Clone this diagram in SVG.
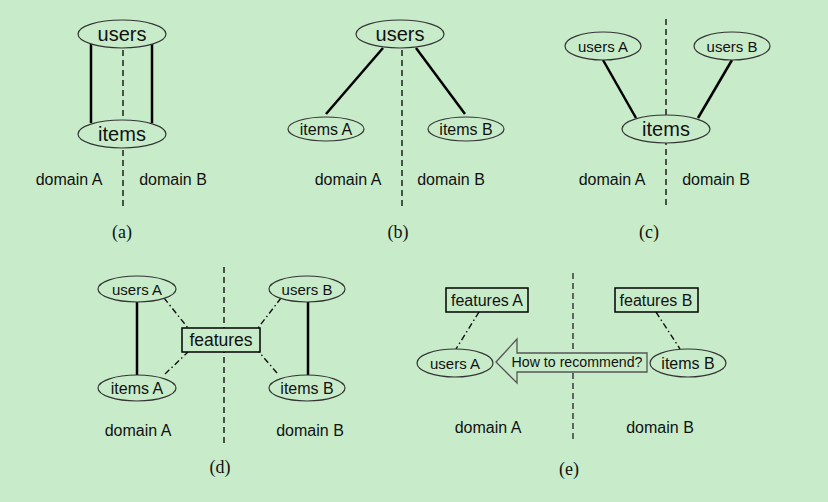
<svg xmlns="http://www.w3.org/2000/svg" width="828" height="502" viewBox="0 0 828 502">
<style>
.bg{fill:#c8ecca}
.nd{fill:#c8ecca;stroke:#333;stroke-width:1.2}
.bx{fill:#c8ecca;stroke:#000;stroke-width:1.5}
.t{font-family:"Liberation Sans",Arial,sans-serif;fill:#111;text-anchor:middle}
.cap{font-family:"Liberation Serif","Times New Roman",serif;font-size:18px;fill:#111;text-anchor:middle}
.solid{stroke:#000;stroke-width:2.5;fill:none}
.dash{stroke:#111;stroke-width:1.4;stroke-dasharray:6 4;fill:none}
.dashg{stroke:#555;stroke-width:1.8;stroke-dasharray:6 4;fill:none}
.dd{stroke:#111;stroke-width:1.4;stroke-dasharray:6 3 1.5 3;fill:none}
</style>
<rect class="bg" x="0" y="0" width="828" height="502"/>

<g id="connectors">
  <!-- (a) -->
  <line class="solid" x1="91" y1="44" x2="91" y2="123"/>
  <line class="solid" x1="152" y1="44" x2="152" y2="123"/>
  <line class="dash" x1="123" y1="50" x2="123" y2="208"/>
  <!-- (b) -->
  <line class="solid" x1="383" y1="48" x2="326" y2="114"/>
  <line class="solid" x1="416" y1="48" x2="465" y2="114"/>
  <line class="dash" x1="402" y1="50" x2="402" y2="208"/>
  <!-- (c) -->
  <line class="dash" x1="666" y1="19" x2="666" y2="208"/>
  <line class="solid" x1="603" y1="60" x2="636" y2="118"/>
  <line class="solid" x1="732" y1="60" x2="698" y2="118"/>
  <!-- (d) -->
  <line class="dash" x1="224" y1="267" x2="224" y2="447"/>
  <line class="solid" x1="137" y1="302" x2="137" y2="375"/>
  <line class="solid" x1="308" y1="302" x2="308" y2="375"/>
  <line class="dd" x1="164" y1="298" x2="188" y2="328"/>
  <line class="dd" x1="165" y1="374" x2="188" y2="352"/>
  <line class="dd" x1="281" y1="298" x2="258" y2="328"/>
  <line class="dd" x1="277" y1="373" x2="259" y2="352"/>
  <!-- (e) -->
  <line class="dashg" x1="573" y1="273" x2="573" y2="442"/>
  <line class="dd" x1="479" y1="312" x2="456" y2="349"/>
  <line class="dd" x1="656" y1="312" x2="680" y2="349"/>
</g>

<!-- (a) -->
<g id="a-users"><ellipse class="nd" cx="122" cy="34" rx="44" ry="14"/><text class="t" x="122" y="41" font-size="20">users</text></g>
<g id="a-items"><ellipse class="nd" cx="122" cy="134" rx="44" ry="14"/><text class="t" x="122" y="141" font-size="20">items</text></g>
<text class="t" x="69" y="185" font-size="16">domain A</text>
<text class="t" x="173" y="185" font-size="16">domain B</text>
<text class="cap" x="122" y="238">(a)</text>

<!-- (b) -->
<g id="b-users"><ellipse class="nd" cx="400" cy="34" rx="44" ry="14"/><text class="t" x="400" y="41" font-size="20">users</text></g>
<g id="b-itemsA"><ellipse class="nd" cx="326" cy="129" rx="38" ry="12"/><text class="t" x="326" y="135" font-size="16">items A</text></g>
<g id="b-itemsB"><ellipse class="nd" cx="466" cy="129" rx="38" ry="12"/><text class="t" x="466" y="135" font-size="16">items B</text></g>
<text class="t" x="348" y="185" font-size="16">domain A</text>
<text class="t" x="451" y="185" font-size="16">domain B</text>
<text class="cap" x="398" y="238">(b)</text>

<!-- (c) -->
<g id="c-usersA"><ellipse class="nd" cx="603" cy="46" rx="38" ry="14"/><text class="t" x="603" y="52" font-size="15">users A</text></g>
<g id="c-usersB"><ellipse class="nd" cx="732" cy="46" rx="38" ry="14"/><text class="t" x="732" y="52" font-size="15">users B</text></g>
<g id="c-items"><ellipse class="nd" cx="666" cy="129" rx="44" ry="14"/><text class="t" x="666" y="136" font-size="20">items</text></g>
<text class="t" x="612" y="185" font-size="16">domain A</text>
<text class="t" x="716" y="185" font-size="16">domain B</text>
<text class="cap" x="649" y="238">(c)</text>

<!-- (d) -->
<g id="d-usersA"><ellipse class="nd" cx="137" cy="289" rx="39" ry="13"/><text class="t" x="137" y="295" font-size="15">users A</text></g>
<g id="d-itemsA"><ellipse class="nd" cx="137" cy="388" rx="39" ry="13"/><text class="t" x="137" y="394" font-size="16">items A</text></g>
<g id="d-usersB"><ellipse class="nd" cx="307" cy="289" rx="38" ry="13"/><text class="t" x="307" y="295" font-size="15">users B</text></g>
<g id="d-itemsB"><ellipse class="nd" cx="307" cy="388" rx="38" ry="13"/><text class="t" x="307" y="394" font-size="16">items B</text></g>
<g id="d-features"><rect class="bx" x="182" y="328" width="78" height="24"/><text class="t" x="221" y="346" font-size="17.5">features</text></g>
<text class="t" x="138" y="436" font-size="16">domain A</text>
<text class="t" x="310" y="436" font-size="16">domain B</text>
<text class="cap" x="220" y="473">(d)</text>

<!-- (e) -->
<g id="e-featuresA"><rect class="bx" x="446" y="288" width="82" height="24"/><text class="t" x="487" y="306" font-size="16">features A</text></g>
<g id="e-featuresB"><rect class="bx" x="615" y="288" width="83" height="24"/><text class="t" x="656" y="306" font-size="16">features B</text></g>
<g id="e-usersA"><ellipse class="nd" cx="455" cy="363" rx="38" ry="14"/><text class="t" x="455" y="369" font-size="15">users A</text></g>
<g id="e-itemsB"><ellipse class="nd" cx="688" cy="363" rx="38" ry="14"/><text class="t" x="688" y="369" font-size="16">items B</text></g>
<g id="e-arrow">
  <polygon points="496,362 517,339 517,353 647,353 647,372 517,372 517,383" fill="#c8ecca" stroke="#555" stroke-width="1.3"/>
  <text class="t" x="577" y="367" font-size="14.2">How to recommend?</text>
</g>
<text class="t" x="488" y="433" font-size="16">domain A</text>
<text class="t" x="660" y="433" font-size="16">domain B</text>
<text class="cap" x="569" y="475">(e)</text>
</svg>
